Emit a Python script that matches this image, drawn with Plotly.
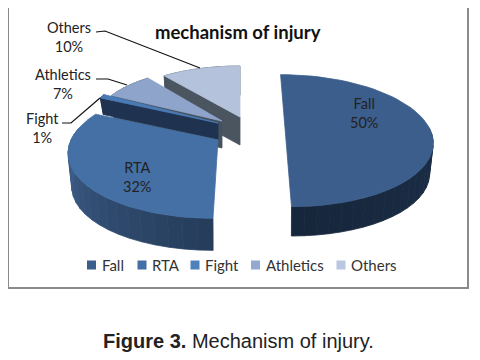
import math
import plotly.graph_objects as go

# Data
categories = ["Fall", "RTA", "Fight", "Athletics", "Others"]
values = [50, 32, 1, 7, 10]
title_text = "mechanism of injury"
caption_bold = "Figure 3."
caption_rest = " Mechanism of injury."

# Style: exploded wedge projection (pixel-space axes)
top_colors = ["#3b5e8c", "#4470a5", "#4a7ab5", "#8fa4cb", "#b4c2db"]
legend_colors = ["#3b5e8c", "#4470a5", "#4f81bd", "#95a9d0", "#b9c7e0"]
side_dark = ["#16263b", "#263d5b", "#1f3350", "#45525f", "#4a5560"]
side_light = ["#1f3550", "#45699a", "#1f3350", "#45525f", "#4a5560"]
proj = {
    "Fall": dict(cx=286, cy=140, a=147, b=66, k=0.01, shear=0.083, depth=31),
    "RTA": dict(cx=218, cy=140, a=147, b=65, k=0.17, shear=-0.064, depth=34),
    "Fight": dict(cx=218, cy=123, a=130, b=59, k=0.0, shear=0.0, depth=16),
    "Athletics": dict(cx=222, cy=121, a=126, b=53, k=0.0, shear=0.0, depth=27),
    "Others": dict(cx=240, cy=117, a=129, b=51, k=0.0, shear=0.0, depth=28),
}
text_color = "#222222"
FONT = "Lato"


def pt(deg, p):
    t = math.radians(deg)
    u, v = math.sin(t), -math.cos(t)
    s = 1 / (1 - p["k"] * v)
    return (p["cx"] + p["a"] * u * s + p["shear"] * p["b"] * v * s, p["cy"] + p["b"] * v * s)


def low(q, p, shrink=0.975):
    return (p["cx"] + (q[0] - p["cx"]) * shrink, p["cy"] + p["depth"] + (q[1] - p["cy"]) * shrink)


def mix(c1, c2, f):
    a = [int(c1[i:i + 2], 16) for i in (1, 3, 5)]
    b = [int(c2[i:i + 2], 16) for i in (1, 3, 5)]
    return "#%02x%02x%02x" % tuple(round(x + (y - x) * f) for x, y in zip(a, b))


def poly(fig, pts, color):
    fig.add_trace(go.Scatter(
        x=[q[0] for q in pts] + [pts[0][0]], y=[q[1] for q in pts] + [pts[0][1]],
        mode="lines", fill="toself", fillcolor=color, line=dict(color=color, width=0.8),
        hoverinfo="skip", showlegend=False))


fig = go.Figure()

# cumulative angles from the values
total = sum(values)
spans = []
acc = 0
for v in values:
    spans.append((acc / total * 360, (acc + v) / total * 360))
    acc += v

# back to front
for i in [4, 3, 2, 1, 0]:
    p = proj[categories[i]]
    a0, a1 = spans[i]
    apex = (p["cx"], p["cy"])
    # cut face on the counter-clockwise edge end
    if i >= 2:
        q = pt(a0, p)
        poly(fig, [apex, q, low(q, p), low(apex, p, 1)], side_dark[i])
    # curved rim, only where it faces the viewer
    n = max(2, int((a1 - a0) / 5))
    for j in range(n):
        d0 = a0 + (a1 - a0) * j / n
        d1 = a0 + (a1 - a0) * (j + 1) / n
        if i <= 1 and -math.cos(math.radians(d0)) < -0.15 and -math.cos(math.radians(d1)) < -0.15:
            continue
        q0, q1 = pt(d0, p), pt(d1, p)
        poly(fig, [q0, q1, low(q1, p), low(q0, p)], mix(side_light[i], side_dark[i], 1 - j / n if i == 1 else j / n))
    # top surface
    arc = [pt(a0 + (a1 - a0) * j / 60, p) for j in range(61)]
    poly(fig, [apex] + arc, top_colors[i])

# legend
legend_x = [91.5, 142, 195, 255.5, 341]
fig.add_trace(go.Scatter(x=legend_x, y=[265] * 5, mode="markers",
                         marker=dict(symbol="square", size=9, color=legend_colors),
                         hoverinfo="skip", showlegend=False))
annotations = []


def txt(x, y, s, size=14.5, anchor="center", color=text_color, family=FONT):
    annotations.append(dict(x=x, y=y, xref="x", yref="y", text=s, showarrow=False, xanchor=anchor,
                            yanchor="middle", align="center", font=dict(size=size, color=color, family=family)))


for name, lx in zip(categories, legend_x):
    txt(lx + 8, 265, name, anchor="left", size=15, color="#333333")

label_pos = {"Fall": (364, 113), "RTA": (137, 176.5), "Fight": (42, 127.5), "Athletics": (63, 83.5), "Others": (69, 37)}
for name, v in zip(categories, values):
    x, y = label_pos[name]
    txt(x, y, f"{name}<br>{v}%")

txt(238, 32, f"<b>{title_text}</b>", size=18.5, color="#111111")
txt(238.5, 341, f"<b>{caption_bold}</b>{caption_rest}", size=20, family="Liberation Sans", color="#222222")

leaders = [
    [(96, 32), (105, 31), (200, 68)],
    [(96, 79), (108, 79), (127, 85)],
    [(62, 123), (71, 123), (100, 98)],
]
shapes = [dict(type="rect", xref="x", yref="y", x0=8, y0=7, x1=468, y1=288,
               line=dict(color="#8a8a8a", width=2), fillcolor="rgba(0,0,0,0)", layer="below")]
for l in leaders:
    path = "M " + " L ".join(f"{x},{y}" for x, y in l)
    shapes.append(dict(type="path", xref="x", yref="y", path=path, line=dict(color="#111111", width=1.2)))

# The page adds an 8 px body margin, so the axes start at 8 to stay aligned with the window.
fig.update_layout(
    width=480, height=360, margin=dict(l=0, r=0, t=0, b=0), autosize=False,
    paper_bgcolor="white", plot_bgcolor="white", showlegend=False,
    xaxis=dict(range=[8, 488], visible=False, fixedrange=True),
    yaxis=dict(range=[368, 8], visible=False, fixedrange=True),
    shapes=shapes, annotations=annotations,
)
fig.write_html("out.html", config={"displayModeBar": False})
